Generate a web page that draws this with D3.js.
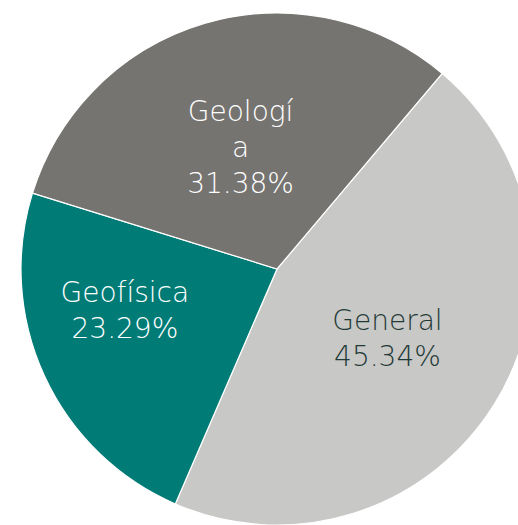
<!DOCTYPE html>
<html><head><meta charset="utf-8">
<script src="https://cdn.jsdelivr.net/npm/d3@7"></script>
<style>html,body{margin:0;padding:0;background:#fff;overflow:hidden}</style>
</head><body>
<svg id="c" width="518" height="525"></svg>
<script>
const categories = ["General", "Geofísica", "Geología"];
const values = [45.34, 23.29, 31.38];
const colors = ["#c8c8c7", "#007b76", "#767471"];
const textColors = ["#1f3a36", "#ffffff", "#ffffff"];
const labelLines = {"Geología": ["Geologí", "a"]};
const labelNudge = {"Geofísica": [-34, -13], "Geología": [0, 3]};

const svg = d3.select("#c");
const cx = 277, cy = 269, r = 256;
const g = svg.append("g").attr("transform", `translate(${cx},${cy})`);
const start = 40.2 * Math.PI / 180;
const pie = d3.pie().sort(null).value(d => d.v).startAngle(start).endAngle(start + 2 * Math.PI);
const data = categories.map((c, i) => ({c, v: values[i], i}));
const arcs = pie(data);
const arc = d3.arc().innerRadius(0).outerRadius(r);
const labelArc = d3.arc().innerRadius(130).outerRadius(130);

g.selectAll("path").data(arcs).join("path")
  .attr("d", arc).attr("fill", d => colors[d.data.i])
  .attr("stroke", "#fff").attr("stroke-width", 1.2);

const lh = 36;
arcs.forEach(d => {
  const [x0, y0] = labelArc.centroid(d);
  const n = labelNudge[d.data.c] || [0, 0];
  const x = x0 + n[0], y = y0 + n[1];
  const lines = (labelLines[d.data.c] || [d.data.c]).concat([d.data.v.toFixed(2) + "%"]);
  const t = g.append("text").attr("text-anchor", "middle")
    .attr("font-family", "'DejaVu Sans', sans-serif").attr("font-weight", 200)
    .attr("font-size", 28).attr("fill", textColors[d.data.i]);
  const first = y - (lines.length - 1) * lh / 2 + 10;
  lines.forEach((l, k) => t.append("tspan").attr("x", x).attr("y", first + k * lh).text(l));
});
</script>
</body></html>
